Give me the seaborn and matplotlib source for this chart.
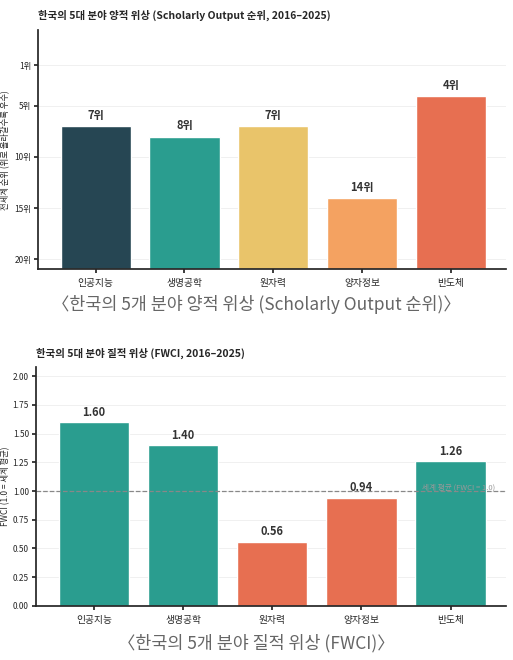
import matplotlib
matplotlib.use("Agg")
import matplotlib.pyplot as plt
import seaborn as sns
import pandas as pd

sns.set_theme(style="white")
plt.rcParams['font.family'] = ['Noto Sans CJK KR', 'DejaVu Sans']

categories = ["인공지능", "생명공학", "원자력", "양자정보", "반도체"]
ranks = [7, 8, 7, 14, 4]
fwci = [1.60, 1.40, 0.56, 0.94, 1.26]
rank_colors = ["#264653", "#2a9d8f", "#e9c46a", "#f4a261", "#e76f51"]
rank_ticks = [1, 5, 10, 15, 20]
fwci_ticks = [0.0, 0.25, 0.5, 0.75, 1.0, 1.25, 1.5, 1.75, 2.0]
BASE = 21

fig = plt.figure(figsize=(5.13, 6.6), dpi=100)

# ---- top chart
ax1 = fig.add_axes([0.074, 0.592, 0.912, 0.362])
df1 = pd.DataFrame({"cat": categories, "h": [BASE - r for r in ranks]})
sns.barplot(data=df1, x="cat", y="h", hue="cat", palette=rank_colors,
            legend=False, ax=ax1, width=0.79, saturation=1)
ax1.set_xlim(-0.65, 4.62)
ax1.set_ylim(0, BASE + 2.4)
ax1.set_yticks([BASE - t for t in rank_ticks])
ax1.set_yticklabels([f"{t}위" for t in rank_ticks], fontsize=6)
for i, r in enumerate(ranks):
    ax1.text(i, BASE - r + 0.4, f"{r}위", ha="center", va="bottom",
             fontsize=8, fontweight="bold", color="#333333")
ax1.set_xlabel("")
ax1.set_ylabel("전세계 순위 (위로 올라갈수록 우수)", fontsize=6)
ax1.yaxis.set_label_coords(-0.06, 0.5)
ax1.tick_params(axis="x", labelsize=7, length=3, bottom=True)
ax1.tick_params(axis="y", length=3, left=True, pad=2)
ax1.grid(axis="y", color="#eeeeee", lw=0.6)
ax1.set_axisbelow(True)
sns.despine(ax=ax1)
fig.text(0.074, 0.977, "한국의 5대 분야 양적 위상 (Scholarly Output 순위, 2016–2025)",
         fontsize=7.5, fontweight="bold", va="center")
fig.text(0.5, 0.538, "〈한국의 5개 분야 양적 위상 (Scholarly Output 순위)〉",
         fontsize=12.5, color="#666666", ha="center", va="center")

# ---- bottom chart
ax2 = fig.add_axes([0.07, 0.082, 0.916, 0.362])
df2 = pd.DataFrame({"cat": categories, "v": fwci})
cols2 = ["#2a9d8f" if v >= 1 else "#e76f51" for v in fwci]
sns.barplot(data=df2, x="cat", y="v", hue="cat", palette=cols2,
            legend=False, ax=ax2, width=0.79, saturation=1)
ax2.set_xlim(-0.65, 4.62)
ax2.set_ylim(0, 2.08)
ax2.set_yticks(fwci_ticks)
ax2.set_yticklabels([f"{t:.2f}" for t in fwci_ticks], fontsize=6)
ax2.axhline(1.0, color="#888888", ls="--", lw=0.9)
ax2.text(4.5, 1.03, "세계 평균 (FWCI = 1.0)", ha="right", va="center",
         fontsize=5.5, color="#999999")
for i, v in enumerate(fwci):
    ax2.text(i, v + 0.03, f"{v:.2f}", ha="center", va="bottom",
             fontsize=8, fontweight="bold", color="#333333")
ax2.set_xlabel("")
ax2.set_ylabel("FWCI (1.0 = 세계 평균)", fontsize=6)
ax2.yaxis.set_label_coords(-0.055, 0.5)
ax2.tick_params(axis="x", labelsize=7, length=3, bottom=True)
ax2.tick_params(axis="y", length=3, left=True, pad=2)
ax2.grid(axis="y", color="#eeeeee", lw=0.6)
ax2.set_axisbelow(True)
sns.despine(ax=ax2)
fig.text(0.07, 0.465, "한국의 5대 분야 질적 위상 (FWCI, 2016–2025)",
         fontsize=7.5, fontweight="bold", va="center")
fig.text(0.5, 0.026, "〈한국의 5개 분야 질적 위상 (FWCI)〉",
         fontsize=12.5, color="#666666", ha="center", va="center")

fig.savefig("out.png", dpi=100)
